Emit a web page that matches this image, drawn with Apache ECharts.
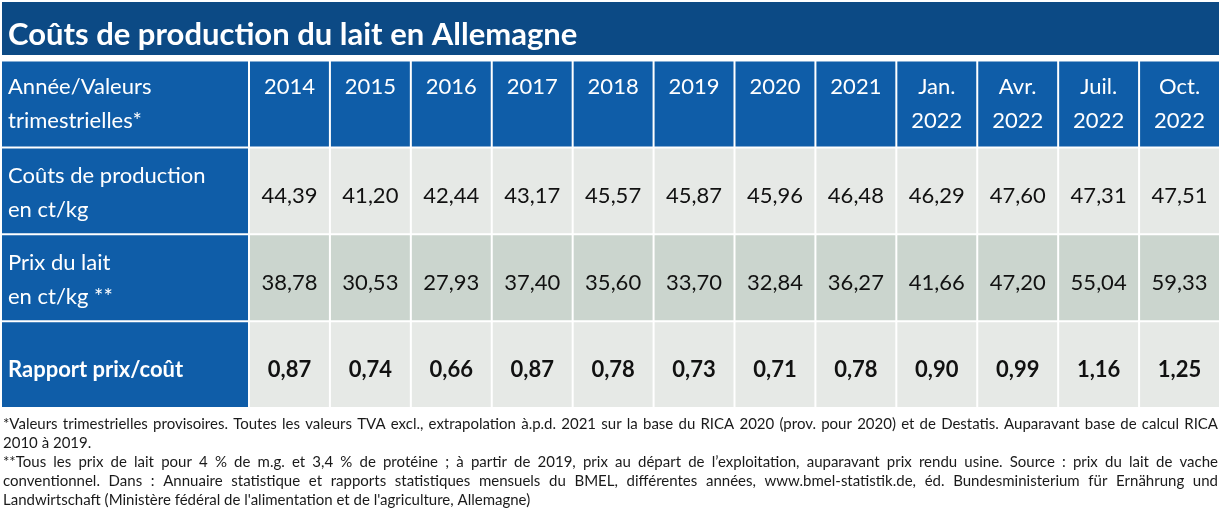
<!DOCTYPE html>
<html><head><meta charset="utf-8">
<script src="https://cdn.jsdelivr.net/npm/echarts@6/dist/echarts.min.js"></script>
<style>html,body{margin:0;padding:0;background:#fff}#c{width:1220px;height:520px}</style>
</head><body><div id="c"></div>
<script>
const titleText = 'Coûts de production du lait en Allemagne';
const columns = ['2014','2015','2016','2017','2018','2019','2020','2021','Jan.\n2022','Avr.\n2022','Juil.\n2022','Oct.\n2022'];
const rowKeys = ['header','cost','price','ratio'];
const rowLabels = ['Année/Valeurs\ntrimestrielles*','Coûts de production\nen ct/kg','Prix du lait\nen ct/kg **','Rapport prix/coût'];
const productionCosts = [44.39,41.20,42.44,43.17,45.57,45.87,45.96,46.48,46.29,47.60,47.31,47.51];
const milkPrices = [38.78,30.53,27.93,37.40,35.60,33.70,32.84,36.27,41.66,47.20,55.04,59.33];
const priceCostRatios = [0.87,0.74,0.66,0.87,0.78,0.73,0.71,0.78,0.90,0.99,1.16,1.25];
const footnotes = [
  '*Valeurs trimestrielles provisoires. Toutes les valeurs TVA excl., extrapolation à.p.d. 2021 sur la base du RICA 2020 (prov. pour 2020) et de Destatis. Auparavant base de calcul RICA',
  '2010 à 2019.',
  '**Tous les prix de lait pour 4 % de m.g. et 3,4 % de protéine ; à partir de 2019, prix au départ de l\u2019exploitation, auparavant prix rendu usine. Source : prix du lait de vache',
  'conventionnel. Dans : Annuaire statistique et rapports statistiques mensuels du BMEL, différentes années, www.bmel-statistik.de, éd. Bundesministerium für Ernährung und',
  'Landwirtschaft (Ministère fédéral de l\'alimentation et de l\'agriculture, Allemagne)'
];
const justifiedLines = [true, false, true, true, false];

const FONT = 'Lato, "Open Sans", sans-serif';
const C_TITLE = '#0c4a85';
const C_HEAD = '#0f5da8';
const C_LIGHT = '#e6e9e6';
const C_DARK = '#cbd5ce';
const NOTE_SIZE = 15;
const NOTE_LEFT = 3, NOTE_RIGHT = 1218;

const fmt = v => v.toFixed(2).replace('.', ',');
const valueRows = [productionCosts, milkPrices, priceCostRatios];

const cellData = [];
columns.forEach((c, i) => cellData.push({value: [i, 0], text: c}));
valueRows.forEach((arr, r) => arr.forEach((v, i) => cellData.push({value: [i, r + 1], text: fmt(v)})));
const labelData = rowLabels.map((t, r) => ({value: [0, r], text: t}));

function cellRect(api) {
  const ctr = api.coord([api.value(0), api.value(1)]);
  const sz = api.size([1, 1]);
  return {x: ctr[0] - sz[0] / 2 + 1, y: ctr[1] - sz[1] / 2 + 1, w: sz[0] - 2, h: sz[1] - 2, cx: ctr[0], cy: ctr[1]};
}

// footnote lines (justified like the source paragraph)
const mctx = document.createElement('canvas').getContext('2d');
mctx.font = NOTE_SIZE + 'px Lato';
const noteElems = [];
footnotes.forEach((line, k) => {
  const y = 424 + k * 19;
  const st = {fill: '#1a1a1a', fontSize: NOTE_SIZE, fontFamily: FONT, verticalAlign: 'middle'};
  if (!justifiedLines[k]) {
    noteElems.push({type: 'text', x: NOTE_LEFT, y: y, style: Object.assign({text: line}, st)});
    return;
  }
  const words = line.split(' ');
  const widths = words.map(w => mctx.measureText(w).width);
  const total = widths.reduce((a, b) => a + b, 0);
  const gap = (NOTE_RIGHT - NOTE_LEFT - total) / (words.length - 1);
  let x = NOTE_LEFT;
  words.forEach((w, i) => {
    noteElems.push({type: 'text', x: x, y: y, style: Object.assign({text: w}, st)});
    x += widths[i] + gap;
  });
});

const chart = echarts.init(document.getElementById('c'), null, {renderer: 'canvas'});
chart.setOption({
  animation: false,
  backgroundColor: '#fff',
  grid: [
    {left: 1, top: 60.5, width: 248, height: 347.5},
    {left: 249, top: 60.5, width: 971, height: 347.5}
  ],
  xAxis: [
    {type: 'category', gridIndex: 0, data: ['label'], show: false},
    {type: 'category', gridIndex: 1, data: columns, show: false}
  ],
  yAxis: [
    {type: 'category', gridIndex: 0, data: rowKeys, inverse: true, show: false},
    {type: 'category', gridIndex: 1, data: rowKeys, inverse: true, show: false}
  ],
  graphic: [
    {type: 'rect', shape: {x: 2, y: 2, width: 1217, height: 53}, style: {fill: C_TITLE}, z: 1},
    {type: 'text', x: 8, y: 35, style: {text: titleText, fill: '#fff', fontSize: 31, fontWeight: 'bold', fontFamily: FONT, verticalAlign: 'middle'}, z: 2}
  ].concat(noteElems),
  series: [
    {
      type: 'custom', xAxisIndex: 0, yAxisIndex: 0, data: labelData,
      renderItem: function (params, api) {
        const r = cellRect(api);
        const row = api.value(1);
        const d = labelData[params.dataIndex];
        return {type: 'group', children: [
          {type: 'rect', shape: {x: r.x, y: r.y, width: r.w, height: r.h}, style: {fill: C_HEAD}},
          {type: 'text', x: r.x + 6, y: r.cy + (row === 3 ? 5 : (row === 0 ? 0 : 2)),
            style: {text: d.text, fill: '#fff', fontSize: 22, lineHeight: 34, fontFamily: FONT,
              fontWeight: row === 3 ? 'bold' : 'normal', align: 'left', verticalAlign: 'middle'}}
        ]};
      }
    },
    {
      type: 'custom', xAxisIndex: 1, yAxisIndex: 1, data: cellData,
      renderItem: function (params, api) {
        const r = cellRect(api);
        const row = api.value(1);
        const d = cellData[params.dataIndex];
        const fill = row === 0 ? C_HEAD : (row === 2 ? C_DARK : C_LIGHT);
        const txt = row === 0
          ? {type: 'text', x: r.cx, y: r.y + 8, style: {text: d.text, fill: '#fff', fontSize: 22, lineHeight: 34, fontFamily: FONT, align: 'center', verticalAlign: 'top'}}
          : {type: 'text', x: r.cx, y: r.cy + 5, style: {text: d.text, fill: '#111', fontSize: 22, fontFamily: FONT, fontWeight: row === 3 ? 'bold' : 'normal', align: 'center', verticalAlign: 'middle'}};
        return {type: 'group', children: [
          {type: 'rect', shape: {x: r.x, y: r.y, width: r.w, height: r.h}, style: {fill: fill}},
          txt
        ]};
      }
    }
  ]
});
</script>
</body></html>
